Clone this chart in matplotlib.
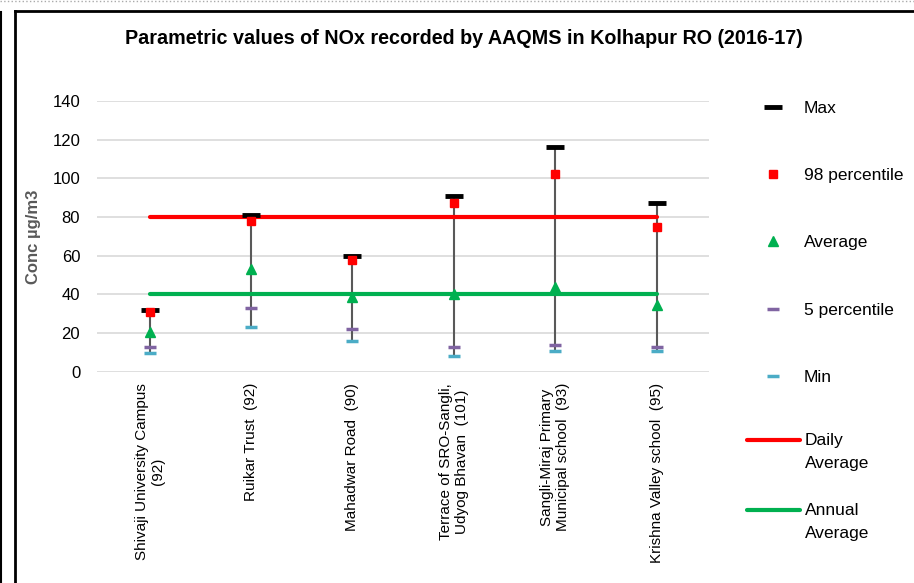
import matplotlib
matplotlib.use('Agg')
import matplotlib.pyplot as plt
from matplotlib.lines import Line2D
import numpy as np

plt.rcParams['font.family'] = ['Liberation Sans', 'DejaVu Sans']

# Station labels and NOx statistics (ug/m3)
stations = ['Shivaji University Campus\n(92)', 'Ruikar Trust  (92)', 'Mahadwar Road  (90)',
            'Terrace of SRO-Sangli,\nUdyog Bhavan  (101)', 'Sangli-Miraj Primary\nMunicipal school  (93)',
            'Krishna Valley school  (95)']
max_vals = [32, 81, 60, 91, 116, 87]
p98_vals = [31, 78, 58, 87, 102, 75]
avg_vals = [20.5, 53, 38.5, 40, 44, 34.5]
p5_vals = [13, 33, 22, 13, 14, 13]
min_vals = [10, 23, 16, 8, 11, 11]
daily_std = 80
annual_std = 40

fig = plt.figure(figsize=(9.14, 5.83), dpi=100)
ax = fig.add_axes([0.106, 0.362, 0.67, 0.465])

x = np.arange(len(stations))

# range lines
ax.vlines(x, min_vals, max_vals, color='#595959', lw=1.5, zorder=2)

h_max, = ax.plot(x, max_vals, ls='none', marker='_', ms=13, mew=3.5, color='black', zorder=4, label='Max')
h_p98, = ax.plot(x, p98_vals, ls='none', marker='s', ms=6, color='#FF0000', zorder=4, label='98 percentile')
h_avg, = ax.plot(x, avg_vals, ls='none', marker='^', ms=7, color='#00B050', zorder=4, label='Average')
h_p5, = ax.plot(x, p5_vals, ls='none', marker='_', ms=9, mew=2.5, color='#8064A2', zorder=4, label='5 percentile')
h_min, = ax.plot(x, min_vals, ls='none', marker='_', ms=9, mew=2.5, color='#4BACC6', zorder=4, label='Min')

ax.plot(x, [daily_std] * len(x), color='#FF0000', lw=3, solid_capstyle='round', zorder=3)
ax.plot(x, [annual_std] * len(x), color='#00B050', lw=3, solid_capstyle='round', zorder=3)

ax.set_xlim(-0.52, len(x) - 0.48)
ax.set_ylim(0, 140)
ax.set_yticks(np.arange(0, 141, 20))
ax.tick_params(axis='y', labelsize=12, length=0, pad=12)
ax.set_xticks(x)
ax.set_xticklabels(stations, rotation=90, fontsize=11, ha='center', va='top', multialignment='center')
ax.tick_params(axis='x', length=0, pad=8)
ax.grid(axis='y', color='#D9D9D9', lw=1.2)
ax.set_axisbelow(True)
for s in ax.spines.values():
    s.set_visible(False)

ax.set_ylabel('Conc µg/m3', fontsize=12, fontweight='bold', color='#595959')
ax.yaxis.set_label_coords(-0.092, 0.5)

fig.text(0.507, 0.934, 'Parametric values of NOx recorded by AAQMS in Kolhapur RO (2016-17)',
         ha='center', va='center', fontsize=14.2, fontweight='bold',
         family=['Liberation Sans Narrow', 'Liberation Sans'])

fig.legend(handles=[h_max, h_p98, h_avg, h_p5, h_min],
           loc='upper left', bbox_to_anchor=(0.807, 0.842), frameon=False, fontsize=12.5,
           labelspacing=3.0, handlelength=3.1, handletextpad=0.2, borderpad=0)

# the two limit lines in the legend: handle sits on the first text line
W, H = 914, 583
for label, color, ytop in [('Daily\nAverage', '#FF0000', 440), ('Annual\nAverage', '#00B050', 510)]:
    fig.add_artist(Line2D([747 / W, 800 / W], [1 - ytop / H] * 2, transform=fig.transFigure,
                          color=color, lw=3, solid_capstyle='round'))
    fig.text(805 / W, 1 - (ytop - 7) / H, label, fontsize=12.5, ha='left', va='top', linespacing=1.7)

# chart frame lines
fig.add_artist(Line2D([0.0015, 0.0015], [0, 0.98], transform=fig.transFigure, color='black', lw=1.5))
fig.add_artist(Line2D([0.016, 0.016], [0, 0.981], transform=fig.transFigure, color='black', lw=2))
fig.add_artist(Line2D([0.016, 1], [0.981, 0.981], transform=fig.transFigure, color='black', lw=2))
fig.add_artist(Line2D([0, 1], [0.998, 0.998], transform=fig.transFigure, color='#AAAAAA', lw=1, ls=':'))

fig.savefig('out.png', dpi=100)
